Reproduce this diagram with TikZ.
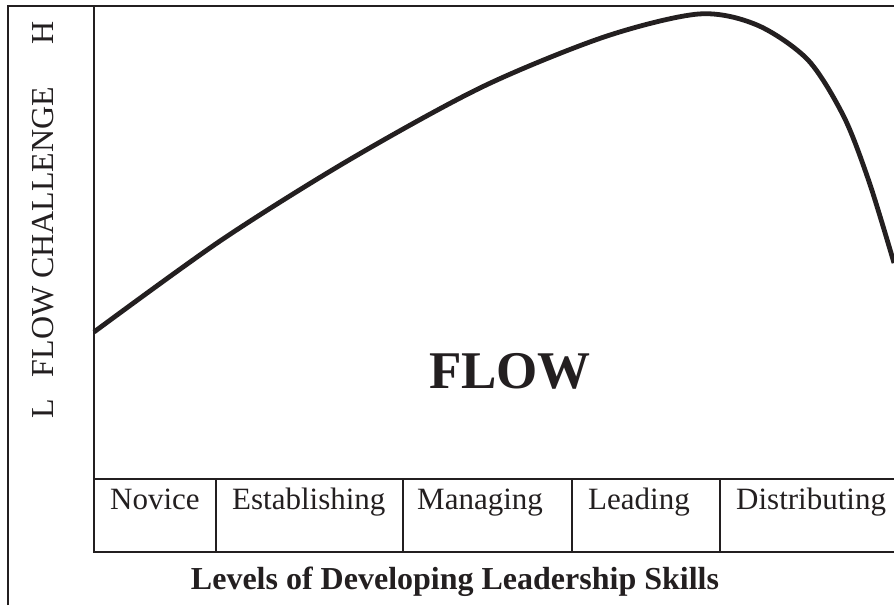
\documentclass[tikz,border=0pt]{standalone}
\usepackage{fontspec}
\setmainfont{Liberation Serif}
\definecolor{ink}{HTML}{231F20}
\tikzset{
	frame/.style={draw=ink, line width=2pt},
	lvl/.style={anchor=base west, inner sep=0pt, text=ink, font=\fontsize{31}{36}\selectfont},
	axislbl/.style={anchor=base, rotate=90, inner sep=0pt, text=ink, font=\fontsize{32}{38}\selectfont}
}
\begin{document}
\begin{tikzpicture}[x=1pt, y=-1pt]
	\useasboundingbox (0,0) rectangle (894,605);
	\draw[frame] (8,605) -- (8,6) -- (894,6);
	\draw[frame] (94,6) -- (94,552) -- (894,552);
	\draw[frame] (94,479) -- (894,479);
	\foreach \x in {216,403,572,720}
		\draw[frame] (\x,479) -- (\x,552);
	
	\node[lvl] (novice) at (110,509) {Novice};
	\node[lvl] (estab) at (232,509) {Establishing};
	\node[lvl] (manag) at (417,509) {Managing};
	\node[lvl] (lead) at (588,509) {Leading};
	\node[lvl] (distr) at (736,509) {Distributing};
	
	\node[axislbl] (low) at (53,409) {L};
	\node[axislbl] (chal) at (53,232) {FLOW CHALLENGE};
	\node[axislbl] (high) at (53,33) {H};
	
	\node[anchor=base, inner sep=0pt, text=ink, font=\fontsize{53}{60}\selectfont\bfseries] (flow) at (510,388) {FLOW};
	\node[anchor=base, inner sep=0pt, text=ink, font=\fontsize{32}{38}\selectfont\bfseries] (levels) at (455,589) {Levels of Developing Leadership Skills};
	
	\draw[ink, line width=4.8pt] plot[smooth] coordinates {(94,332) (221.5,240) (349,160) (482,87) (604,37) (698.6,14) (757,25) (808,60) (844,117) (869.5,183) (894,263)};
\end{tikzpicture}
\end{document}
